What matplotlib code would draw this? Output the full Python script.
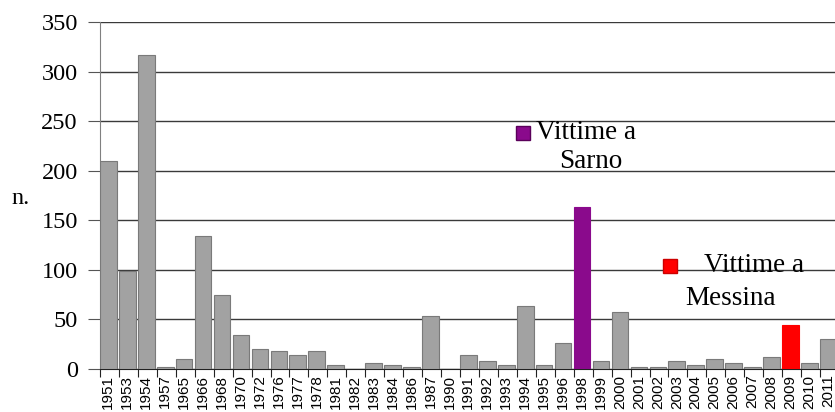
import matplotlib
matplotlib.use("Agg")
import matplotlib.pyplot as plt
import numpy as np

years = ["1951", "1953", "1954", "1957", "1965", "1966", "1968", "1970", "1972", "1976",
         "1977", "1978", "1981", "1982", "1983", "1984", "1986", "1987", "1990", "1991",
         "1992", "1993", "1994", "1995", "1996", "1998", "1999", "2000", "2001", "2002",
         "2003", "2004", "2005", "2006", "2007", "2008", "2009", "2010", "2011"]
victims = [210, 99, 317, 2, 10, 134, 75, 34, 20, 18,
           14, 18, 4, 0, 6, 4, 2, 53, 0, 14,
           8, 4, 64, 4, 26, 163, 8, 57, 2, 2,
           8, 4, 10, 6, 2, 12, 44, 6, 30]
yticks = [0, 50, 100, 150, 200, 250, 300, 350]
highlight = {"1998": "#8a0a8c", "2009": "#ff0000"}

plt.rcParams['font.family'] = ['Liberation Serif', 'DejaVu Serif']

fig = plt.figure(figsize=(8.35, 4.12), dpi=100)
ax = fig.add_axes([100/835, 43/412, 739/835, 347/412])

n = len(years)
x = np.arange(n)
colors = [highlight.get(y, "#a2a2a2") for y in years]
edges = [highlight.get(y, "#7a7a7a") for y in years]
ax.bar(x, victims, width=0.88, align='edge', color=colors, edgecolor=edges,
       linewidth=0.8, zorder=3)

ax.set_xlim(0, n)
ax.set_ylim(0, 350)
ax.set_yticks(yticks)
ax.set_yticklabels([str(v) for v in yticks], fontsize=17.5)
ax.yaxis.grid(True, color="#3a3a3a", linewidth=1.0, zorder=0)
ax.set_axisbelow(True)

ax.set_xticks(np.arange(n + 1))
ax.set_xticklabels([])
ax.set_xticks(x + 0.44, minor=True)
ax.set_xticklabels(years, minor=True, rotation=90, fontsize=11,
                   family=['Liberation Sans', 'DejaVu Sans'], va='top')
ax.tick_params(axis='x', which='major', length=6, direction='out', color="#222222")
ax.tick_params(axis='x', which='minor', length=0, pad=4)
ax.tick_params(axis='y', length=9, direction='out', color="#555555", pad=7)

for s in ["top", "right"]:
    ax.spines[s].set_visible(False)
ax.spines["left"].set_color("#808080")
ax.spines["bottom"].set_color("#222222")

ax.set_ylabel("n.", fontsize=17.5, rotation=0, va='center')
ax.yaxis.set_label_coords(-0.108, 0.49)

# annotations
ax.plot([22.3], [238.5], marker='s', markersize=10, color="#8a0a8c",
        markeredgecolor="#5a005a", zorder=5)
ax.text(23.0, 239, "Vittime a", fontsize=19.5, va='center', ha='left', zorder=5)
ax.text(25.9, 209, "Sarno", fontsize=19.5, va='center', ha='center', zorder=5)

ax.plot([30.1], [103.4], marker='s', markersize=10, color="#ff0000",
        markeredgecolor="#cc0000", zorder=5)
ax.text(31.9, 104, "Vittime a", fontsize=19.5, va='center', ha='left', zorder=5)
ax.text(33.3, 71, "Messina", fontsize=19.5, va='center', ha='center', zorder=5)

fig.savefig("out.png", dpi=100)
